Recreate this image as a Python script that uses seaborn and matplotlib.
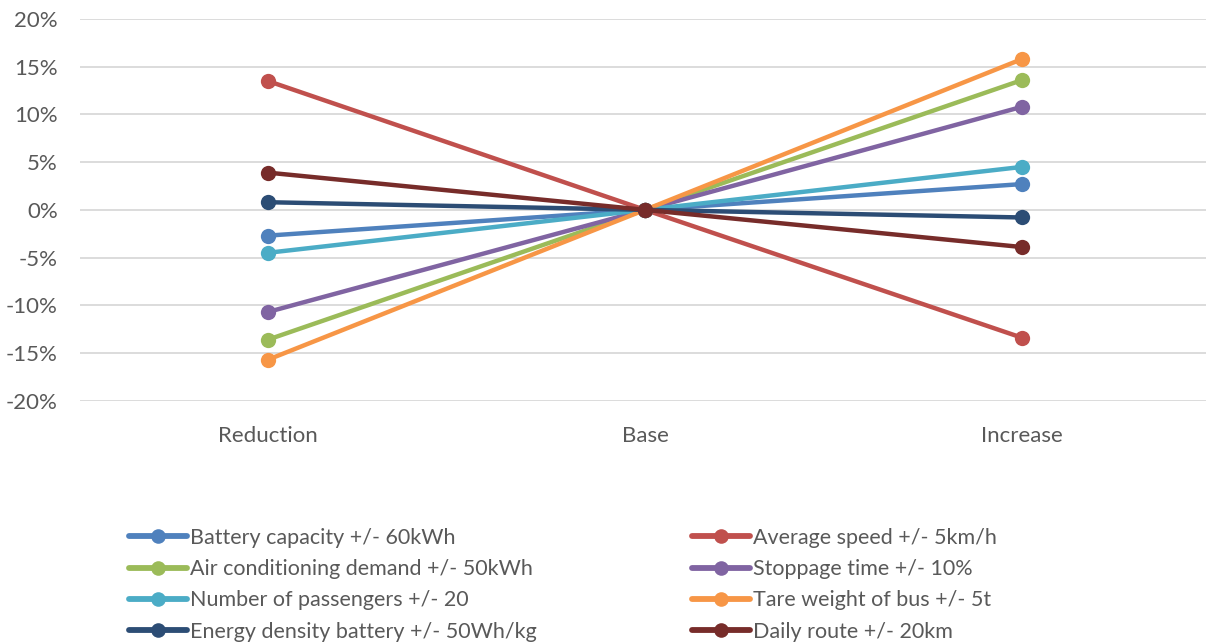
import numpy as np
import pandas as pd
import matplotlib
matplotlib.use("Agg")
import matplotlib.pyplot as plt
import seaborn as sns
from matplotlib.ticker import FuncFormatter
from matplotlib.lines import Line2D

scenarios = ["Reduction", "Base", "Increase"]
series_names = [
    "Battery capacity +/- 60kWh",
    "Average speed +/- 5km/h",
    "Air conditioning demand +/- 50kWh",
    "Stoppage time +/- 10%",
    "Number of passengers +/- 20",
    "Tare weight of bus +/- 5t",
    "Energy density battery +/- 50Wh/kg",
    "Daily route +/- 20km",
]
battery_capacity = [-2.7, 0.0, 2.7]
average_speed = [13.5, 0.0, -13.4]
air_conditioning = [-13.6, 0.0, 13.6]
stoppage_time = [-10.7, 0.0, 10.8]
passengers = [-4.5, 0.0, 4.5]
tare_weight = [-15.7, 0.0, 15.8]
energy_density = [0.8, 0.0, -0.8]
daily_route = [3.9, 0.0, -3.9]
values = [battery_capacity, average_speed, air_conditioning, stoppage_time,
          passengers, tare_weight, energy_density, daily_route]
colors = ["#4F81BD", "#C0504D", "#9BBB59", "#8064A2",
          "#4BACC6", "#F79646", "#2C4D75", "#772C2A"]

rows = []
for name, vals in zip(series_names, values):
    for sc, v in zip(scenarios, vals):
        rows.append({"series": name, "scenario": sc, "value": v})
df = pd.DataFrame(rows)

sns.set_theme(style="white")
plt.rcParams["font.family"] = ["Lato", "DejaVu Sans"]

fig = plt.figure(figsize=(12.06, 6.44), dpi=100)
W, H = 1206, 644
left_px, right_px, top_px, bot_px = 80, 1206, 19, 400.7
ax = fig.add_axes([left_px / W, 1 - bot_px / H, (right_px - left_px) / W, (bot_px - top_px) / H])

palette = dict(zip(series_names, colors))
sns.lineplot(data=df, x="scenario", y="value", hue="series", palette=palette,
             hue_order=series_names, sort=False, marker="o", markersize=11,
             markeredgewidth=0, linewidth=3.2, ax=ax, legend=False)

ax.set_xlim((left_px - 268) / 377, (right_px - 268) / 377)
ax.set_ylim(-20, 20)
ax.set_yticks(np.arange(-20, 21, 5))
ax.yaxis.set_major_formatter(FuncFormatter(lambda v, p: f"{v:.0f}%"))
ax.grid(axis="y", color="#D9D9D9", linewidth=1.3)
ax.grid(axis="x", visible=False)
ax.set_axisbelow(True)
for s in ax.spines.values():
    s.set_visible(False)
ax.set_xlabel("")
ax.set_ylabel("")
ax.tick_params(axis="both", length=0, labelsize=16, labelcolor="#595959")
ax.tick_params(axis="x", pad=18)
ax.tick_params(axis="y", pad=16)

handles = [Line2D([], [], color=c, linewidth=4.2, marker="o", markersize=10.5,
                  markeredgewidth=0) for c in colors]
col1 = [0, 2, 4, 6]
col2 = [1, 3, 5, 7]
common = dict(frameon=False, fontsize=15.5, labelcolor="#595959", handlelength=2.7,
              handletextpad=0.15, labelspacing=0.52, loc="upper left",
              borderaxespad=0, borderpad=0)
fig.legend([handles[i] for i in col1], [series_names[i] for i in col1],
           bbox_to_anchor=(129 / W, 1 - 528 / H), **common)
fig.legend([handles[i] for i in col2], [series_names[i] for i in col2],
           bbox_to_anchor=(692 / W, 1 - 528 / H), **common)

fig.savefig("out.png", dpi=100)
